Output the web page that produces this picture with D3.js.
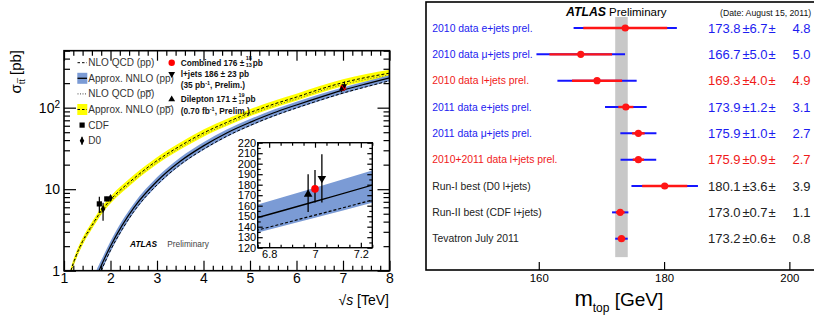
<!DOCTYPE html>
<html>
<head>
<meta charset="utf-8">
<script src="https://cdn.jsdelivr.net/npm/d3@7"></script>
<style>
  body { margin: 0; background: #fff; }
  svg { display: block; }
  text { font-family: "Liberation Sans", Arial, Helvetica, sans-serif; }
</style>
</head>
<body>
<div id="chart"></div>
<script>
// ---- data: cross section vs sqrt(s) (left panel) ----
var sqrtsPP  = [1.6, 1.7, 1.8, 2.0, 2.25, 2.5, 3.0, 3.5, 4.0, 4.5, 5.0, 5.5, 6.0, 6.5, 7.0, 7.5, 8.0];
var nnloPP   = [0.6, 0.85, 1.15, 2.0, 3.6, 5.9, 12.5, 22, 34, 49, 66, 86, 108, 134, 164, 196, 232];
var nnloPPhi = [0.72, 1.02, 1.34, 2.3, 4.1, 6.65, 14.0, 24.5, 37.6, 54, 72.4, 94, 118, 146, 177, 211, 250];
var nnloPPlo = [0.48, 0.7, 0.96, 1.7, 3.1, 5.15, 11.0, 19.5, 30.3, 43.8, 59.2, 77.4, 97.4, 121, 148.5, 178, 211];
var nloPP    = [0.52, 0.74, 1.0, 1.78, 3.2, 5.3, 11.3, 20, 30.9, 44.6, 60.4, 78.8, 99.2, 123.3, 151, 180.5, 213.8];

var sqrtsPPbar  = [1.1, 1.15, 1.25, 1.4, 1.6, 1.8, 2.0, 2.5, 3.0, 3.5, 4.0, 4.5, 5.0, 5.5, 6.0, 6.5, 7.0, 7.5, 8.0];
var nnloPPbar   = [0.75, 1.0, 1.48, 2.3, 3.6, 5.4, 7.4, 13.5, 22.4, 34, 49, 66, 87, 110, 135, 168, 203, 235, 265];
var nnloPPbarHi = [0.83, 1.1, 1.63, 2.53, 3.96, 5.94, 8.14, 14.9, 24.6, 37.4, 53.9, 72.6, 95.7, 121, 148.5, 184.8, 223.3, 258.5, 291.5];
var nnloPPbarLo = [0.68, 0.9, 1.33, 2.07, 3.24, 4.86, 6.66, 12.2, 20.2, 30.6, 44.1, 59.4, 78.3, 99, 121.5, 151.2, 182.7, 211.5, 238.5];
var nloPPbar    = [0.71, 0.95, 1.41, 2.19, 3.42, 5.13, 7.03, 12.8, 21.3, 32.3, 46.6, 62.7, 82.7, 104.5, 128.3, 159.6, 192.9, 223.3, 251.8];

var tevExp   = ["CDF", "D0", "CDF", "D0"];
var tevS     = [1.76, 1.84, 1.92, 2.0];
var tevXs    = [6.6, 5.7, 7.6, 7.8];
var tevErrUp = [1.5, 1.1, 0.5, 0.6];
var tevErrDn = [1.5, 1.6, 0.5, 0.6];

var atlasName  = ["Combined", "l+jets", "Dilepton"];
var atlasS     = [7.0, 7.03, 6.97];
var atlasXs    = [176, 186, 171];
var atlasErrUp = [18, 23, 19];
var atlasErrDn = [13, 23, 17];

var legendLabels = ["NLO QCD (pp)", "Approx. NNLO (pp)", "NLO QCD (pp\u0305)", "Approx. NNLO (pp\u0305)", "CDF", "D0"];

// ---- data: top mass summary (right panel) ----
var mtopLabels = ["2010 data e+jets prel.", "2010 data \u03bc+jets prel.", "2010 data l+jets prel.",
  "2011 data e+jets prel.", "2011 data \u03bc+jets prel.", "2010+2011 data l+jets prel.",
  "Run-I best (D0 l+jets)", "Run-II best (CDF l+jets)", "Tevatron July 2011"];
var mtopVal  = [173.8, 166.7, 169.3, 173.9, 175.9, 175.9, 180.1, 173.0, 173.2];
var mtopStat = [6.7, 5.0, 4.0, 1.2, 1.0, 0.9, 3.6, 0.7, 0.6];
var mtopSyst = [4.8, 5.0, 4.9, 3.1, 2.7, 2.7, 3.9, 1.1, 0.8];
var mtopKind = ["channel", "channel", "combo", "channel", "channel", "combo", "tevatron", "tevatron", "tevatron"];
var mtopTicks = [160, 180, 200];

var kindColor = { channel: "#1c1cf0", combo: "#f01a1a", tevatron: "#222" };
var blueBand = "#7b9bd5";
var yellowBand = "#ffff00";

var svg = d3.select("#chart").append("svg").attr("width", 814).attr("height", 320);

// ================= left panel =================
var xL = d3.scaleLinear().domain([1, 8]).range([64, 389.5]);
var yL = d3.scaleLog().domain([1, 500]).range([270.7, 50.7]);

svg.append("clipPath").attr("id", "clipL").append("rect")
  .attr("x", 64).attr("y", 50.7).attr("width", 325.5).attr("height", 220);

function bandPath(xs, lo, hi, xsc, ysc) {
  return d3.area()
    .x(function (d, i) { return xsc(xs[i]); })
    .y0(function (d, i) { return ysc(lo[i]); })
    .y1(function (d, i) { return ysc(hi[i]); })
    .curve(d3.curveMonotoneX)(xs);
}
function linePath(xs, ys, xsc, ysc) {
  return d3.line()
    .x(function (d, i) { return xsc(xs[i]); })
    .y(function (d, i) { return ysc(ys[i]); })
    .curve(d3.curveMonotoneX)(xs);
}

var plotL = svg.append("g").attr("clip-path", "url(#clipL)");

// ppbar band + lines
plotL.append("path").attr("d", bandPath(sqrtsPPbar, nnloPPbarLo, nnloPPbarHi, xL, yL)).attr("fill", yellowBand);
plotL.append("path").attr("d", linePath(sqrtsPPbar, nloPPbar, xL, yL))
  .attr("fill", "none").attr("stroke", "#444").attr("stroke-width", 0.8).attr("stroke-dasharray", "1,2");
plotL.append("path").attr("d", linePath(sqrtsPPbar, nnloPPbar, xL, yL))
  .attr("fill", "none").attr("stroke", "#000").attr("stroke-width", 1).attr("stroke-dasharray", "3,2");

// pp band + lines
plotL.append("path").attr("d", bandPath(sqrtsPP, nnloPPlo, nnloPPhi, xL, yL)).attr("fill", blueBand);
plotL.append("path").attr("d", linePath(sqrtsPP, nloPP, xL, yL))
  .attr("fill", "none").attr("stroke", "#000").attr("stroke-width", 1).attr("stroke-dasharray", "3,2");
plotL.append("path").attr("d", linePath(sqrtsPP, nnloPP, xL, yL))
  .attr("fill", "none").attr("stroke", "#000").attr("stroke-width", 1.2);

// Tevatron points
tevS.forEach(function (s, i) {
  var x = xL(s);
  plotL.append("line").attr("x1", x).attr("x2", x)
    .attr("y1", yL(tevXs[i] + tevErrUp[i])).attr("y2", yL(tevXs[i] - tevErrDn[i]))
    .attr("stroke", "#000").attr("stroke-width", 1.2);
  if (tevExp[i] === "CDF") {
    plotL.append("rect").attr("x", x - 2.6).attr("y", yL(tevXs[i]) - 2.6)
      .attr("width", 5.2).attr("height", 5.2).attr("fill", "#000");
  } else {
    plotL.append("path").attr("d", d3.symbol(d3.symbolDiamond, 18)())
      .attr("transform", "translate(" + x + "," + yL(tevXs[i]) + ")").attr("fill", "#000");
  }
});

// ATLAS points (main)
atlasS.forEach(function (s, i) {
  var x = xL(s);
  plotL.append("line").attr("x1", x).attr("x2", x)
    .attr("y1", yL(atlasXs[i] + atlasErrUp[i])).attr("y2", yL(atlasXs[i] - atlasErrDn[i]))
    .attr("stroke", "#000").attr("stroke-width", 1);
});
atlasS.forEach(function (s, i) {
  var x = xL(s), y = yL(atlasXs[i]);
  if (i === 0) {
    plotL.append("circle").attr("cx", x).attr("cy", y).attr("r", 3).attr("fill", "#f00");
  } else {
    plotL.append("path").attr("d", d3.symbol(d3.symbolTriangle, 12)())
      .attr("transform", "translate(" + x + "," + y + ")" + (i === 1 ? " rotate(180)" : ""))
      .attr("fill", "#000");
  }
});

// axes of left panel (inward ticks, mirrored)
var yMajor = [1, 10, 100];
var yMinor = yL.ticks().filter(function (d) { return yMajor.indexOf(d) < 0; });
var xMajor = d3.range(1, 9);
var xMinor = d3.range(1, 8.001, 0.2).filter(function (d) { return Math.abs(d - Math.round(d)) > 0.01; });

function styleAxis(g, size) {
  g.attr("font-family", "'Liberation Sans', Arial, sans-serif").attr("font-size", size);
  g.select(".domain").remove();
  g.selectAll(".tick line").attr("stroke", "#000").attr("stroke-width", 1.2);
  g.selectAll(".tick text").attr("fill", "#000");
  return g;
}

var gxb = svg.append("g").attr("transform", "translate(0,270.7)")
  .call(d3.axisBottom(xL).tickValues(xMajor).tickFormat(d3.format("d")).tickSizeInner(-10).tickSizeOuter(0).tickPadding(2.5));
styleAxis(gxb, 14);
styleAxis(svg.append("g").attr("transform", "translate(0,270.7)")
  .call(d3.axisBottom(xL).tickValues(xMinor).tickFormat("").tickSizeInner(-5).tickSizeOuter(0)), 14);
styleAxis(svg.append("g").attr("transform", "translate(0,50.7)")
  .call(d3.axisTop(xL).tickValues(xMajor).tickFormat("").tickSizeInner(-10).tickSizeOuter(0)), 14);
styleAxis(svg.append("g").attr("transform", "translate(0,50.7)")
  .call(d3.axisTop(xL).tickValues(xMinor).tickFormat("").tickSizeInner(-5).tickSizeOuter(0)), 14);

var gyl = svg.append("g").attr("transform", "translate(64,0)")
  .call(d3.axisLeft(yL).tickValues(yMajor).tickFormat(function (d) { return d === 100 ? "10" : d; })
    .tickSizeInner(-12).tickSizeOuter(0).tickPadding(4));
styleAxis(gyl, 14);
gyl.selectAll(".tick text").each(function (d) {
  if (d === 100) {
    d3.select(this).append("tspan").attr("dy", "-0.5em").attr("font-size", 10).text("2");
  }
});
styleAxis(svg.append("g").attr("transform", "translate(64,0)")
  .call(d3.axisLeft(yL).tickValues(yMinor).tickFormat("").tickSizeInner(-6).tickSizeOuter(0)), 14);
styleAxis(svg.append("g").attr("transform", "translate(389.5,0)")
  .call(d3.axisRight(yL).tickValues(yMajor).tickFormat("").tickSizeInner(-12).tickSizeOuter(0)), 14);
styleAxis(svg.append("g").attr("transform", "translate(389.5,0)")
  .call(d3.axisRight(yL).tickValues(yMinor).tickFormat("").tickSizeInner(-6).tickSizeOuter(0)), 14);

svg.append("rect").attr("x", 64).attr("y", 50.7).attr("width", 325.5).attr("height", 220)
  .attr("fill", "none").attr("stroke", "#000").attr("stroke-width", 1.6);

// axis titles
var yt = svg.append("text").attr("transform", "translate(21,50) rotate(-90)")
  .attr("text-anchor", "end").attr("font-size", 15).attr("fill", "#000");
yt.append("tspan").text("\u03c3");
yt.append("tspan").attr("dy", 4).attr("font-size", 9).text("tt\u0305");
yt.append("tspan").attr("dy", -4).text(" [pb]");

var xt = svg.append("text").attr("x", 389).attr("y", 305).attr("text-anchor", "end")
  .attr("font-size", 14).attr("fill", "#000");
xt.append("tspan").text("\u221a");
xt.append("tspan").attr("font-style", "italic").text("s");
xt.append("tspan").text(" [TeV]");

// ATLAS label
var al = svg.append("text").attr("y", 246.5).attr("font-size", 8.3);
al.append("tspan").attr("x", 130).attr("font-weight", "bold").attr("font-style", "italic").text("ATLAS");
al.append("tspan").attr("x", 167.3).attr("fill", "#444").text("Preliminary");

// legend (theory + Tevatron)
var lg = svg.append("g");
legendLabels.forEach(function (lab, i) {
  var y = 62.7 + i * 15.6;
  lg.append("text").attr("x", 88.3).attr("y", y).attr("dy", "0.35em")
    .attr("font-size", 10).attr("fill", "#333").text(lab);
  if (i === 1 || i === 3) {
    lg.append("rect").attr("x", 77.3).attr("y", y - 5.5).attr("width", 10).attr("height", 11)
      .attr("fill", i === 1 ? blueBand : yellowBand);
  }
  if (i < 4) {
    lg.append("line").attr("x1", 77.5).attr("x2", 87).attr("y1", y).attr("y2", y)
      .attr("stroke", i === 2 ? "#444" : "#000").attr("stroke-width", i === 1 ? 1.3 : 1)
      .attr("stroke-dasharray", i === 1 ? null : (i === 2 ? "1,1.5" : "2.5,2"));
  } else if (i === 4) {
    lg.append("rect").attr("x", 79.5).attr("y", y - 2.6).attr("width", 5.2).attr("height", 5.2).attr("fill", "#000");
  } else {
    lg.append("line").attr("x1", 82).attr("x2", 82).attr("y1", y - 4).attr("y2", y + 4)
      .attr("stroke", "#000").attr("stroke-width", 1.2);
    lg.append("path").attr("d", d3.symbol(d3.symbolDiamond, 18)())
      .attr("transform", "translate(82," + y + ")").attr("fill", "#000");
  }
});

// legend (ATLAS measurements)
var rl = svg.append("g").attr("font-size", 8.3).attr("font-weight", "bold").attr("fill", "#111");
rl.append("circle").attr("cx", 171.7).attr("cy", 62.7).attr("r", 3.2).attr("fill", "#f00");
rl.append("path").attr("d", d3.symbol(d3.symbolTriangle, 20)())
  .attr("transform", "translate(171.7,74) rotate(180)").attr("fill", "#000");
rl.append("path").attr("d", d3.symbol(d3.symbolTriangle, 20)())
  .attr("transform", "translate(171.7,99.3)").attr("fill", "#000");

function asymEntry(y, lead, val, up, dn) {
  var t = rl.append("text").attr("x", 180.7).attr("y", y).attr("dy", "0.35em")
    .text(lead + " " + val + " \u00b1 ");
  var w = t.node().getComputedTextLength();
  rl.append("text").attr("x", 180.7 + w + 1.5).attr("y", y - 2.5).attr("font-size", 5.5).text(up);
  rl.append("text").attr("x", 180.7 + w + 1.5).attr("y", y + 4.5).attr("font-size", 5.5).text(dn);
  rl.append("text").attr("x", 180.7 + w + 8.5).attr("y", y).attr("dy", "0.35em").text("pb");
}
asymEntry(62.7, atlasName[0], atlasXs[0], atlasErrUp[0], atlasErrDn[0]);
rl.append("text").attr("x", 180.7).attr("y", 74).attr("dy", "0.35em")
  .text(atlasName[1] + " " + atlasXs[1] + " \u00b1 " + atlasErrUp[1] + " pb");
var lum1 = rl.append("text").attr("x", 180.7).attr("y", 85.3).attr("dy", "0.35em");
lum1.append("tspan").text("(35 pb");
lum1.append("tspan").attr("dy", -3).attr("font-size", 5.5).text("-1");
lum1.append("tspan").attr("dy", 3).text(", Prelim.)");
asymEntry(99.3, atlasName[2], atlasXs[2], atlasErrUp[2], atlasErrDn[2]);
var lum2 = rl.append("text").attr("x", 180.7).attr("y", 111).attr("dy", "0.35em");
lum2.append("tspan").text("(0.70 fb");
lum2.append("tspan").attr("dy", -3).attr("font-size", 5.5).text("-1");
lum2.append("tspan").attr("dy", 3).text(", Prelim.)");

// ---- inset ----
var xI = d3.scaleLinear().domain([6.75, 7.25]).range([257.7, 372.3]);
var yI = d3.scaleLinear().domain([120, 220]).range([247.7, 142.7]);
svg.append("rect").attr("x", 257.7).attr("y", 142.7).attr("width", 114.6).attr("height", 105).attr("fill", "#fff");
svg.append("clipPath").attr("id", "clipI").append("rect")
  .attr("x", 257.7).attr("y", 142.7).attr("width", 114.6).attr("height", 105);
var plotI = svg.append("g").attr("clip-path", "url(#clipI)");
plotI.append("path").attr("d", bandPath(sqrtsPP, nnloPPlo, nnloPPhi, xI, yI)).attr("fill", blueBand);
plotI.append("path").attr("d", linePath(sqrtsPP, nloPP, xI, yI))
  .attr("fill", "none").attr("stroke", "#000").attr("stroke-width", 1.2).attr("stroke-dasharray", "3,2");
plotI.append("path").attr("d", linePath(sqrtsPP, nnloPP, xI, yI))
  .attr("fill", "none").attr("stroke", "#000").attr("stroke-width", 1.3);
atlasS.forEach(function (s, i) {
  var x = xI(s);
  plotI.append("line").attr("x1", x).attr("x2", x)
    .attr("y1", yI(atlasXs[i] + atlasErrUp[i])).attr("y2", yI(atlasXs[i] - atlasErrDn[i]))
    .attr("stroke", "#000").attr("stroke-width", 1.3);
});
atlasS.forEach(function (s, i) {
  var x = xI(s), y = yI(atlasXs[i]);
  if (i === 0) {
    plotI.append("circle").attr("cx", x).attr("cy", y).attr("r", 3.8).attr("fill", "#f00");
  } else {
    plotI.append("path").attr("d", d3.symbol(d3.symbolTriangle, 32)())
      .attr("transform", "translate(" + x + "," + y + ")" + (i === 1 ? " rotate(180)" : ""))
      .attr("fill", "#000");
  }
});
var iyMajor = d3.range(120, 221, 10);
var iyMinor = d3.range(125, 220, 10);
var ixMajor = [6.8, 7.0, 7.2];
var ixMinor = d3.range(6.75, 7.251, 0.05).filter(function (d) { return ixMajor.every(function (m) { return Math.abs(m - d) > 0.01; }); });
var gil = svg.append("g").attr("transform", "translate(257.7,0)")
  .call(d3.axisLeft(yI).tickValues(iyMajor).tickSizeInner(-5).tickSizeOuter(0).tickPadding(1.5));
styleAxis(gil, 11);
styleAxis(svg.append("g").attr("transform", "translate(257.7,0)")
  .call(d3.axisLeft(yI).tickValues(iyMinor).tickFormat("").tickSizeInner(-3).tickSizeOuter(0)), 11);
styleAxis(svg.append("g").attr("transform", "translate(372.3,0)")
  .call(d3.axisRight(yI).tickValues(iyMajor).tickFormat("").tickSizeInner(-5).tickSizeOuter(0)), 11);
styleAxis(svg.append("g").attr("transform", "translate(372.3,0)")
  .call(d3.axisRight(yI).tickValues(iyMinor).tickFormat("").tickSizeInner(-3).tickSizeOuter(0)), 11);
var gib = svg.append("g").attr("transform", "translate(0,247.7)")
  .call(d3.axisBottom(xI).tickValues(ixMajor).tickFormat(function (d) { return d === 7 ? "7" : d3.format(".1f")(d); })
    .tickSizeInner(-5).tickSizeOuter(0).tickPadding(3));
styleAxis(gib, 11);
styleAxis(svg.append("g").attr("transform", "translate(0,247.7)")
  .call(d3.axisBottom(xI).tickValues(ixMinor).tickFormat("").tickSizeInner(-3).tickSizeOuter(0)), 11);
styleAxis(svg.append("g").attr("transform", "translate(0,142.7)")
  .call(d3.axisTop(xI).tickValues(ixMajor).tickFormat("").tickSizeInner(-5).tickSizeOuter(0)), 11);
styleAxis(svg.append("g").attr("transform", "translate(0,142.7)")
  .call(d3.axisTop(xI).tickValues(ixMinor).tickFormat("").tickSizeInner(-3).tickSizeOuter(0)), 11);
svg.append("rect").attr("x", 257.7).attr("y", 142.7).attr("width", 114.6).attr("height", 105)
  .attr("fill", "none").attr("stroke", "#000").attr("stroke-width", 1.4);

// ================= right panel =================
var xR = d3.scaleLinear().domain([142, 205]).range([426, 820.7]);
var yR = d3.scaleLinear().domain([0, mtopVal.length - 1]).range([28, 238.7]);

var last = mtopVal.length - 1;
var tevTot = Math.sqrt(mtopStat[last] * mtopStat[last] + mtopSyst[last] * mtopSyst[last]);
svg.append("rect")
  .attr("x", xR(mtopVal[last] - tevTot)).attr("width", xR(mtopVal[last] + tevTot) - xR(mtopVal[last] - tevTot))
  .attr("y", yR(-0.42)).attr("height", yR(last + 0.7) - yR(-0.42))
  .attr("fill", "#c8c8c8");

var fmt = d3.format(".1f");
mtopVal.forEach(function (v, i) {
  var y = yR(i);
  var tot = Math.sqrt(mtopStat[i] * mtopStat[i] + mtopSyst[i] * mtopSyst[i]);
  svg.append("line").attr("x1", xR(v - tot)).attr("x2", xR(v + tot)).attr("y1", y).attr("y2", y)
    .attr("stroke", "#1515ff").attr("stroke-width", 2);
  svg.append("line").attr("x1", xR(v - mtopStat[i])).attr("x2", xR(v + mtopStat[i])).attr("y1", y).attr("y2", y)
    .attr("stroke", "#ff1515").attr("stroke-width", 2.4);
  svg.append("circle").attr("cx", xR(v)).attr("cy", y).attr("r", 3.6).attr("fill", "#ff1515");

  var col = kindColor[mtopKind[i]];
  svg.append("text").attr("x", 432.3).attr("y", y).attr("dy", "0.35em")
    .attr("font-size", 10.4).attr("fill", col).text(mtopLabels[i]);
  var g = svg.append("g").attr("font-size", 13).attr("fill", col);
  g.append("text").attr("x", 708).attr("y", y).attr("dy", "0.36em").text(fmt(v));
  g.append("text").attr("x", 742.5).attr("y", y).attr("dy", "0.36em").text("\u00b1");
  g.append("text").attr("x", 749.5).attr("y", y).attr("dy", "0.36em").text(fmt(mtopStat[i]));
  g.append("text").attr("x", 768.5).attr("y", y).attr("dy", "0.36em").text("\u00b1");
  g.append("text").attr("x", 810.5).attr("y", y).attr("dy", "0.36em").attr("text-anchor", "end").text(fmt(mtopSyst[i]));
});

var gxr = svg.append("g").attr("transform", "translate(0,270)")
  .call(d3.axisBottom(xR).tickValues(mtopTicks).tickSizeInner(-8).tickSizeOuter(0).tickPadding(3.6));
styleAxis(gxr, 11.4);
svg.append("rect").attr("x", 426).attr("y", 2).attr("width", 400).attr("height", 268)
  .attr("fill", "none").attr("stroke", "#000").attr("stroke-width", 1.6);

var ttl = svg.append("text").attr("y", 16);
ttl.append("tspan").attr("x", 566).attr("font-size", 12.3).attr("font-weight", "bold").attr("font-style", "italic").text("ATLAS");
ttl.append("tspan").attr("x", 609).attr("font-size", 11.5).text("Preliminary");
svg.append("text").attr("x", 720).attr("y", 15.5).attr("font-size", 8.7).attr("fill", "#111")
  .text("(Date: August 15, 2011)");

var mt = svg.append("text").attr("x", 663.3).attr("y", 306).attr("text-anchor", "end")
  .attr("font-size", 19).attr("fill", "#000");
mt.append("tspan").attr("font-size", 22).text("m");
mt.append("tspan").attr("dy", 6).attr("font-size", 12).text("top");
mt.append("tspan").attr("dy", -6).text(" [GeV]");
</script>
</body>
</html>
